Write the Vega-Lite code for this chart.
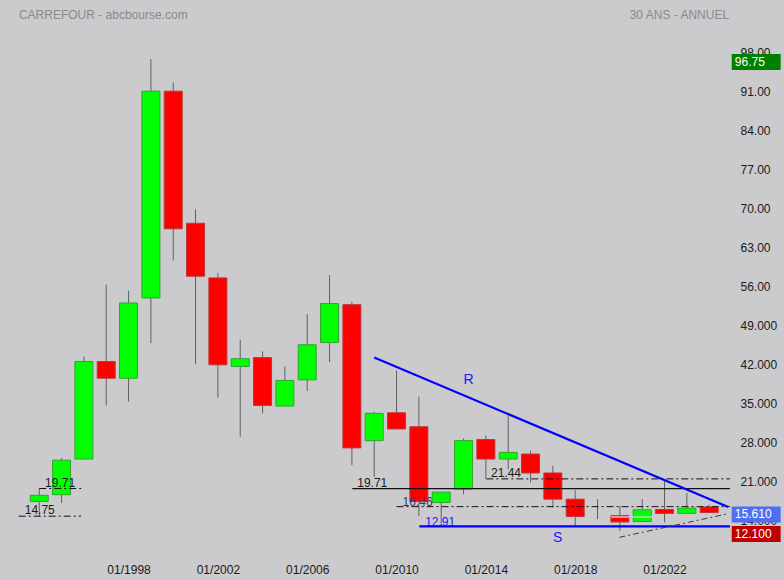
{
  "$schema": "https://vega.github.io/schema/vega-lite/v6.json",
  "width": 735,
  "height": 560,
  "autosize": {"type": "none"},
  "padding": {"left": 0, "top": 0, "right": 49, "bottom": 20},
  "background": "#cbcbcd",
  "config": {"view": {"stroke": null}, "font": "Liberation Sans"},
  "datasets": {
    "candles": [
      {"year": 1994, "open": 17.4, "high": 19.71, "low": 14.75, "close": 18.5},
      {"year": 1995, "open": 18.6, "high": 25.2, "low": 17.1, "close": 24.8},
      {"year": 1996, "open": 25.0, "high": 43.4, "low": 25.0, "close": 42.5},
      {"year": 1997, "open": 42.5, "high": 56.3, "low": 34.6, "close": 39.5},
      {"year": 1998, "open": 39.5, "high": 55.2, "low": 35.3, "close": 53.0},
      {"year": 1999, "open": 53.9, "high": 96.75, "low": 45.8, "close": 91.0},
      {"year": 2000, "open": 91.0, "high": 92.6, "low": 60.6, "close": 66.3},
      {"year": 2001, "open": 67.3, "high": 69.8, "low": 42.0, "close": 57.8},
      {"year": 2002, "open": 57.5, "high": 58.4, "low": 36.0, "close": 41.9},
      {"year": 2003, "open": 41.6, "high": 46.4, "low": 29.0, "close": 43.0},
      {"year": 2004, "open": 43.2, "high": 44.3, "low": 33.2, "close": 34.6},
      {"year": 2005, "open": 34.5, "high": 41.6, "low": 34.5, "close": 39.1},
      {"year": 2006, "open": 39.2, "high": 51.0, "low": 37.2, "close": 45.5},
      {"year": 2007, "open": 45.9, "high": 58.0, "low": 42.4, "close": 52.9},
      {"year": 2008, "open": 52.7, "high": 53.2, "low": 23.9, "close": 27.0},
      {"year": 2009, "open": 28.3, "high": 33.5, "low": 21.8, "close": 33.2},
      {"year": 2010, "open": 33.3, "high": 40.9, "low": 30.4, "close": 30.4},
      {"year": 2011, "open": 30.8, "high": 36.2, "low": 14.8, "close": 17.4},
      {"year": 2012, "open": 17.2, "high": 19.06, "low": 12.91, "close": 19.06},
      {"year": 2013, "open": 19.6, "high": 28.7, "low": 18.65, "close": 28.3},
      {"year": 2014, "open": 28.5, "high": 29.2, "low": 21.44, "close": 25.0},
      {"year": 2015, "open": 25.0, "high": 32.9, "low": 23.2, "close": 26.2},
      {"year": 2016, "open": 25.9, "high": 26.5, "low": 20.8, "close": 22.5},
      {"year": 2017, "open": 22.5, "high": 23.8, "low": 16.3, "close": 17.8},
      {"year": 2018, "open": 17.8, "high": 19.4, "low": 12.95, "close": 14.7},
      {"year": 2019, "open": 14.25, "high": 17.8, "low": 14.2, "close": 14.25},
      {"year": 2020, "open": 14.85, "high": 16.6, "low": 12.1, "close": 13.7},
      {"year": 2021, "open": 13.8, "high": 17.8, "low": 13.65, "close": 15.9},
      {"year": 2022, "open": 15.95, "high": 21.3, "low": 13.65, "close": 15.25},
      {"year": 2023, "open": 15.25, "high": 18.9, "low": 15.25, "close": 16.2},
      {"year": 2024, "open": 16.4, "high": 16.8, "low": 15.4, "close": 15.4}
    ],
    "dashlevels": [
      {"x1": 1994.0, "x2": 1995.96, "value": 19.71},
      {"x1": 1993.08, "x2": 1995.87, "value": 14.75},
      {"x1": 2014.02, "x2": 2024.93, "value": 21.44},
      {"x1": 2010.0, "x2": 2024.93, "value": 16.46}
    ],
    "solidlevels": [
      {"x1": 2008.02, "x2": 2024.93, "value": 19.71}
    ],
    "bluelevels": [
      {"x1": 2011.02, "x2": 2024.93, "value": 12.91}
    ],
    "gap": [
      {"x1": 2019.6, "x2": 2021.5, "value": 14.58}
    ],
    "resistance": [
      {"x": 2009.0, "y": 43.2},
      {"x": 2024.85, "y": 16.4}
    ],
    "support": [
      {"x": 2019.98, "y": 10.96},
      {"x": 2024.84, "y": 15.19}
    ],
    "darklabels": [
      {"x": 1994.26, "y": 19.71, "text": "19.71"},
      {"x": 1993.35, "y": 14.75, "text": "14.75"},
      {"x": 2008.24, "y": 19.71, "text": "19.71"},
      {"x": 2014.23, "y": 21.44, "text": "21.44"}
    ],
    "bluelabels": [
      {"x": 2011.28, "y": 12.91, "text": "12.91"}
    ],
    "slatelabels": [
      {"x": 2010.27, "y": 16.46, "text": "16.46"}
    ],
    "letters": [
      {"x": 2013.23, "y": 38.44, "text": "R"},
      {"x": 2017.21, "y": 10.13, "text": "S"}
    ],
    "boxes": [
      {"kind": "max", "value": 96.75, "text": "96.75"},
      {"kind": "last", "value": 15.61, "text": "15.610"},
      {"kind": "min", "value": 12.1, "text": "12.100"}
    ],
    "headerleft": [
      {"x": 1993.09, "y": 104.7, "text": "CARREFOUR - abcbourse.com"}
    ],
    "headerright": [
      {"x": 2024.89, "y": 104.7, "text": "30 ANS - ANNUEL"}
    ]
  },
  "layer": [
    {
      "data": {"name": "candles"},
      "mark": {"type": "rule", "color": "#606060", "strokeWidth": 1},
      "encoding": {
        "x": {
          "field": "year", "type": "quantitative",
          "scale": {"domain": [1992.467, 2024.932], "nice": false, "zero": false},
          "axis": {
            "orient": "bottom", "values": [1998, 2002, 2006, 2010, 2014, 2018, 2022],
            "labelExpr": "'01/' + datum.value", "ticks": false, "tickSize": 0, "domain": false, "grid": false,
            "labelPadding": 4, "labelFontSize": 12, "labelColor": "#1a1a1a", "labelDx": 3, "title": null, "labelFlush": false
          }
        },
        "y": {
          "field": "low", "type": "quantitative",
          "scale": {"domain": [7.785, 106.458], "nice": false, "zero": false},
          "axis": {
            "orient": "right", "values": [14, 21, 28, 35, 42, 49, 56, 63, 70, 77, 84, 91, 98],
            "labelExpr": "datum.value >= 56 ? format(datum.value, '.2f') : format(datum.value, '.3f')",
            "ticks": false, "tickSize": 0, "domain": false, "grid": false,
            "labelPadding": 5, "labelFontSize": 12, "labelColor": "#1a1a1a", "title": null, "labelFlush": false
          }
        },
        "y2": {"field": "high"}
      }
    },
    {
      "data": {"name": "candles"},
      "transform": [{"filter": "datum.open != datum.close"}],
      "mark": {"type": "bar", "size": 18, "strokeWidth": 1},
      "encoding": {
        "x": {"field": "year", "type": "quantitative"},
        "y": {"field": "open", "type": "quantitative"},
        "y2": {"field": "close"},
        "fill": {"condition": {"test": "datum.close > datum.open", "value": "#00ff00"}, "value": "#ff0000"},
        "stroke": {"condition": {"test": "datum.close > datum.open", "value": "#35a035"}, "value": "#b83a3a"}
      }
    },
    {
      "data": {"name": "gap"},
      "mark": {"type": "rule", "color": "#cbcbcd", "strokeWidth": 1.5},
      "encoding": {
        "x": {"field": "x1", "type": "quantitative"},
        "x2": {"field": "x2"},
        "y": {"field": "value", "type": "quantitative"}
      }
    },
    {
      "data": {"name": "dashlevels"},
      "mark": {"type": "rule", "color": "#111111", "strokeWidth": 1, "strokeDash": [7, 3, 2, 3]},
      "encoding": {
        "x": {"field": "x1", "type": "quantitative"},
        "x2": {"field": "x2"},
        "y": {"field": "value", "type": "quantitative"}
      }
    },
    {
      "data": {"name": "solidlevels"},
      "mark": {"type": "rule", "color": "#111111", "strokeWidth": 1.2},
      "encoding": {
        "x": {"field": "x1", "type": "quantitative"},
        "x2": {"field": "x2"},
        "y": {"field": "value", "type": "quantitative"}
      }
    },
    {
      "data": {"name": "bluelevels"},
      "mark": {"type": "rule", "color": "#0000ff", "strokeWidth": 2.2},
      "encoding": {
        "x": {"field": "x1", "type": "quantitative"},
        "x2": {"field": "x2"},
        "y": {"field": "value", "type": "quantitative"}
      }
    },
    {
      "data": {"name": "resistance"},
      "mark": {"type": "line", "color": "#0000ff", "strokeWidth": 2.2},
      "encoding": {
        "x": {"field": "x", "type": "quantitative"},
        "y": {"field": "y", "type": "quantitative"}
      }
    },
    {
      "data": {"name": "support"},
      "mark": {"type": "line", "color": "#3a3a3a", "strokeWidth": 1, "strokeDash": [6, 3, 2, 3]},
      "encoding": {
        "x": {"field": "x", "type": "quantitative"},
        "y": {"field": "y", "type": "quantitative"}
      }
    },
    {
      "data": {"name": "darklabels"},
      "mark": {"type": "text", "align": "left", "baseline": "alphabetic", "dy": -2, "fontSize": 12, "color": "#1a1a1a"},
      "encoding": {
        "x": {"field": "x", "type": "quantitative"},
        "y": {"field": "y", "type": "quantitative"},
        "text": {"field": "text"}
      }
    },
    {
      "data": {"name": "slatelabels"},
      "mark": {"type": "text", "align": "left", "baseline": "alphabetic", "dy": -1, "fontSize": 12, "color": "#2f3b66"},
      "encoding": {
        "x": {"field": "x", "type": "quantitative"},
        "y": {"field": "y", "type": "quantitative"},
        "text": {"field": "text"}
      }
    },
    {
      "data": {"name": "bluelabels"},
      "mark": {"type": "text", "align": "left", "baseline": "alphabetic", "dy": 0, "fontSize": 12, "color": "#1a1aff"},
      "encoding": {
        "x": {"field": "x", "type": "quantitative"},
        "y": {"field": "y", "type": "quantitative"},
        "text": {"field": "text"}
      }
    },
    {
      "data": {"name": "letters"},
      "mark": {"type": "text", "align": "center", "baseline": "alphabetic", "fontSize": 14, "color": "#1a1aff"},
      "encoding": {
        "x": {"field": "x", "type": "quantitative"},
        "y": {"field": "y", "type": "quantitative"},
        "text": {"field": "text"}
      }
    },
    {
      "data": {"name": "boxes"},
      "mark": {"type": "bar", "size": 16, "yOffset": 3},
      "encoding": {
        "x": {"datum": 2025.01, "type": "quantitative"},
        "x2": {"datum": 2027.2},
        "y": {"field": "value", "type": "quantitative"},
        "fill": {"field": "kind", "type": "nominal", "scale": {"domain": ["max", "last", "min"], "range": ["#008000", "#4f6ff0", "#c00000"]}, "legend": null}
      }
    },
    {
      "data": {"name": "boxes"},
      "mark": {"type": "text", "align": "left", "baseline": "middle", "dy": 3, "fontSize": 12, "color": "#ffffff"},
      "encoding": {
        "x": {"datum": 2025.15, "type": "quantitative"},
        "y": {"field": "value", "type": "quantitative"},
        "text": {"field": "text"}
      }
    },
    {
      "data": {"name": "headerleft"},
      "mark": {"type": "text", "align": "left", "baseline": "middle", "fontSize": 12, "color": "#8a8a8a"},
      "encoding": {
        "x": {"field": "x", "type": "quantitative"},
        "y": {"field": "y", "type": "quantitative"},
        "text": {"field": "text"}
      }
    },
    {
      "data": {"name": "headerright"},
      "mark": {"type": "text", "align": "right", "baseline": "middle", "fontSize": 12, "color": "#8a8a8a"},
      "encoding": {
        "x": {"field": "x", "type": "quantitative"},
        "y": {"field": "y", "type": "quantitative"},
        "text": {"field": "text"}
      }
    }
  ]
}
